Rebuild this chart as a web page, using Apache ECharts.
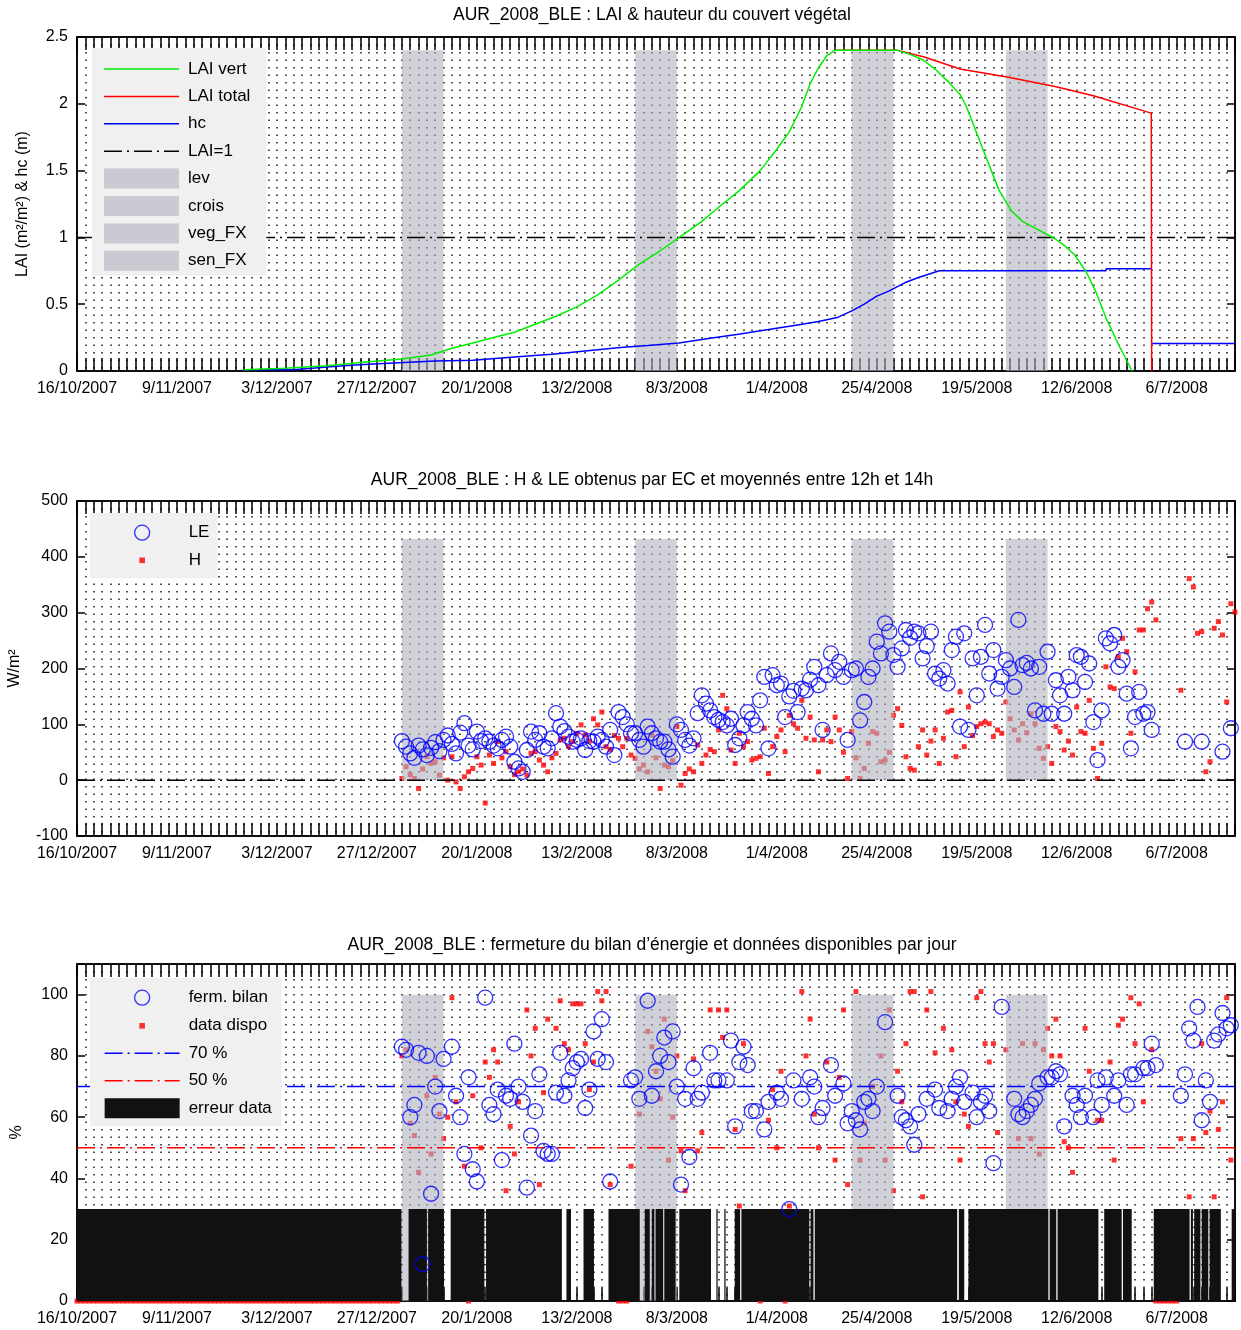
<!DOCTYPE html>
<html><head><meta charset="utf-8">
<script src="https://cdn.jsdelivr.net/npm/echarts@6/dist/echarts.min.js"></script>
<style>html,body{margin:0;padding:0;background:#fff}#c{width:1241px;height:1330px}</style>
</head><body><div id="c"></div>
<script>
// ---------- axis / tick data (days counted from 16/10/2007) ----------
const xTickLabels = ['16/10/2007','9/11/2007','3/12/2007','27/12/2007','20/1/2008','13/2/2008','8/3/2008','1/4/2008','25/4/2008','19/5/2008','12/6/2008','6/7/2008'];
const tickStepDays = 24;
const dayMax = 278;

// ---------- phases ----------
const phaseNames = ['lev','crois','veg_FX','sen_FX'];
const phaseRanges = [[78,88],[134,144],[186,196],[223,233]];
const phaseTops = [2.4, 432, 100];

// ---------- plot 1 : LAI & hc ----------
const laiVert = [[40,0.01],[50,0.02],[60,0.04],[70,0.07],[78,0.09],[85,0.12],[90,0.17],[95,0.21],[100,0.25],[105,0.29],[110,0.35],[115,0.41],[120,0.48],[125,0.57],[130,0.68],[135,0.8],[140,0.9],[145,1.01],[150,1.12],[155,1.25],[159,1.35],[164,1.5],[168,1.66],[171,1.79],[174,1.98],[176,2.15],[178,2.27],[180,2.36],[182,2.4],[197,2.4],[200,2.37],[203,2.33],[206,2.26],[209,2.17],[212,2.07],[213.5,1.98],[215.5,1.82],[217.6,1.65],[219.5,1.5],[221.4,1.35],[224.3,1.2],[227,1.12],[230,1.07],[234.8,0.99],[237,0.94],[239.5,0.87],[242.3,0.74],[244.5,0.6],[247,0.4],[250,0.2],[253.3,0]];
const laiTotal = [[182,2.4],[197,2.4],[203.4,2.35],[212,2.26],[223.3,2.2],[234.8,2.13],[244,2.06],[257.9,1.93],[258,0]];
const hc = [[40,0.01],[52,0.01],[60,0.03],[64,0.04],[70,0.05],[76,0.06],[86,0.075],[95,0.08],[105,0.105],[114,0.125],[122,0.15],[130.4,0.175],[137,0.19],[144.5,0.21],[152,0.245],[158.8,0.275],[166,0.31],[173,0.345],[178,0.37],[182.5,0.4],[186,0.45],[189,0.5],[192,0.56],[195,0.6],[198.7,0.66],[202,0.7],[205,0.73],[207,0.75],[247,0.75],[247.1,0.765],[257.9,0.765],[258,null],[258.1,0.205],[278,0.205]];
const laiRef = 1;

// ---------- plot 2 : LE & H (W/m2) ----------
const LE = [[78,70],[79,60],[80,48],[81,40],[82,62],[83,55],[84,45],[85,58],[86,68],[87,52],[88,72],[89,80],[90,65],[91,48],[92,85],[93,102],[94,62],[95,55],[96,87],[97,70],[98,75],[99,69],[100,62],[101,57],[102,72],[103,78],[104,60],[105,33],[106,21],[107,15],[108,54],[109,87],[110,72],[111,84],[112,60],[113,57],[114,75],[115,120],[116,96],[117,88],[118,78],[119,69],[120,72],[121,75],[122,54],[123,70],[124,69],[125,78],[126,72],[127,60],[128,90],[129,45],[130,122],[131,113],[132,100],[133,84],[134,84],[135,72],[136,60],[137,96],[138,84],[139,75],[140,69],[141,69],[142,55],[143,42],[144,100],[145,90],[146,72],[147,62],[148,75],[149,120],[150,152],[151,137],[152,125],
[153,113],[154,108],[155,104],[156,98],[157,110],[158,63],[159,75],[160,98],[161,122],[162,110],[163,98],[164,143],[165,185],[166,57],[167,188],[168,170],[169,173],[170,113],[171,150],[172,160],[173,122],[174,164],[175,161],[176,180],[177,203],[178,170],[179,90],[180,188],[181,227],[182,197],[183,212],[184,185],[185,72],[186,197],[187,200],[188,107],[189,140],[190,185],[191,200],[192,248],[193,227],[194,281],[195,266],[196,224],[197,203],[198,236],[199,269],[200,255],[201,266],[202,263],[203,218],[204,240],[205,266],[206,191],[207,182],[208,197],[209,173],[210,233],[211,257],[212,96],[213,263],[214,90],[215,218],[216,152],[217,221],[218,278],[219,191],[220,233],[221,164],
[222,185],[223,215],[224,200],[225,167],[226,287],[227,206],[228,210],[229,200],[230,125],[231,203],[232,119],[233,230],[234,119],[235,179],[236,152],[237,119],[238,185],[239,161],[240,224],[241,221],[242,176],[243,209],[244,104],[245,36],[246,125],[247,254],[248,245],[249,260],[250,203],[251,215],[252,155],[253,57],[254,113],[255,158],[256,119],[257,122],[258,90],[266,69],[270,69],[275,51],[277,93]];
const H = [[78,3],[79,24],[80,10],[81,3],[82,-15],[83,20],[84,42],[85,30],[86,33],[87,9],[88,40],[89,0],[90,42],[91,-3],[92,-15],[93,6],[94,15],[95,21],[96,42],[97,27],[98,-41],[99,45],[100,30],[101,69],[102,40],[103,51],[104,24],[105,10],[106,15],[107,20],[108,9],[109,48],[110,51],[111,36],[112,27],[113,15],[114,40],[115,48],[116,72],[117,75],[118,60],[119,69],[120,84],[121,99],[122,81],[123,70],[124,110],[125,99],[126,122],[127,60],[128,55],[129,80],[130,75],[131,60],[132,75],[133,45],[134,39],[135,20],[136,27],[137,15],[138,81],[139,40],[140,-15],[141,27],[142,24],[143,35],[144,96],[145,-9],[146,12],[147,20],[148,15],[149,63],[150,30],[151,45],[152,55],
[153,51],[154,90],[155,152],[156,128],[157,54],[158,30],[159,84],[160,60],[161,69],[162,36],[163,39],[164,42],[165,93],[166,12],[167,60],[168,78],[169,90],[170,51],[171,116],[172,101],[173,93],[174,143],[175,75],[176,113],[177,72],[178,15],[179,72],[180,90],[181,69],[182,113],[183,90],[184,50],[185,3],[186,87],[187,40],[188,3],[189,21],[190,66],[191,87],[192,84],[193,33],[194,36],[195,50],[196,116],[197,128],[198,98],[199,42],[200,21],[201,18],[202,60],[203,90],[204,45],[205,70],[206,90],[207,30],[208,75],[209,122],[210,125],[211,42],[212,158],[213,60],[214,131],[215,80],[216,96],[217,101],[218,104],[219,101],[220,78],[221,90],
[222,84],[223,140],[224,110],[225,90],[226,72],[227,101],[228,85],[229,119],[230,101],[231,57],[232,39],[233,60],[234,30],[235,96],[236,87],[237,54],[238,70],[239,45],[240,131],[241,87],[242,84],[243,143],[244,57],[245,3],[246,66],[247,203],[248,167],[249,164],[250,221],[251,254],[252,230],[253,84],[254,194],[255,269],[256,269],[257,307],[258,319],[259,287],[265,161],[267,361],[268,346],[269,263],[270,266],[271,15],[272,33],[273,272],[274,284],[275,260],[276,140],[277,316],[278,301]];
const zeroRef = 0;

// ---------- plot 3 : energy balance closure (%) ----------
const fermBilan = [[78,83],[79,82],[80,60],[81,64],[82,81],[83,12],[84,80],[85,35],[86,70],[87,62],[88,79],[90,83],[91,67],[92,60],[93,48],[94,73],[95,43],[96,39],[98,99],[99,64],[100,61],[101,69],[102,46],[103,67],[104,66],[105,84],[106,70],[107,65],[108,37],[109,54],[110,62],[111,74],[112,49],[113,48],[114,48],[115,68],[116,81],[117,67],[118,72],[119,76],[120,78],[121,79],[122,63],[123,69],[124,88],[125,79],[126,92],[127,78],[128,39],
[133,72],[134,73],[135,66],[137,98],[138,67],[139,75],[140,80],[141,86],[142,78],[143,88],[144,70],[145,38],[146,66],[147,47],[148,76],[149,66],[150,68],[152,81],[153,72],[154,72],[156,72],[157,85],[158,57],[159,78],[160,83],[161,77],[162,62],[163,62],[165,56],[166,65],[168,68],[169,66],[171,30],[172,72],[174,66],[176,73],[177,70],[178,60],[179,63],[181,77],[182,67],[184,71],[185,58],[186,62],[187,59],[188,56],[189,65],[190,66],[191,62],[192,70],[194,91],[197,67],[198,60],[199,59],[200,57],[201,51],[202,61],[204,66],[206,69],[207,63],[209,62],[210,66],[211,70],[212,73],[213,65],[215,68],[216,60],[217,65],[218,67],[219,62],[220,45],[222,96],[225,66],[226,61],[227,60],[228,62],[229,64],[230,66],[231,71],[233,73],[234,73],[235,75],[236,74],[237,57],[239,67],[240,64],[241,60],[242,67],[244,60],[245,72],[246,64],[247,73],[249,67],[250,72],[252,64],[253,74],[254,74],[256,76],[257,76],[258,84],[259,77],[265,67],[266,74],[267,89],[268,85],[269,96],[270,59],[271,72],[272,65],[273,85],[274,87],[275,94],[276,89],[277,90]];
const dataDispo = [[0,0],[1,0],[2,0],[3,0],[4,0],[5,0],[6,0],[7,0],[8,0],[9,0],[10,0],[11,0],[12,0],[13,0],[14,0],[15,0],[16,0],[17,0],[18,0],[19,0],[20,0],[21,0],[22,0],[23,0],[24,0],[25,0],[26,0],[27,0],[28,0],[29,0],[30,0],[31,0],[32,0],[33,0],[34,0],[35,0],[36,0],[37,0],[38,0],[39,0],[40,0],[41,0],[42,0],[43,0],[44,0],[45,0],[46,0],[47,0],[48,0],[49,0],[50,0],[51,0],[52,0],[53,0],[54,0],[55,0],[56,0],[57,0],[58,0],[59,0],[60,0],[61,0],[62,0],[63,0],[64,0],[65,0],[66,0],[67,0],[68,0],[69,0],[70,0],[71,0],[72,0],[73,0],[74,0],[75,0],[76,0],[77,0],
[78,80],[79,82],[80,58],[81,54],[82,42],[84,67],[85,48],[86,73],[87,61],[88,53],[89,60],[90,99],[91,65],[93,44],[94,0],[95,67],[97,50],[98,78],[99,73],[100,82],[101,78],[103,36],[104,57],[105,48],[106,65],[108,95],[109,80],[110,89],[111,38],[112,68],[113,92],[115,89],[116,98],[117,84],[118,82],[119,97],[120,97],[121,97],[122,84],[123,69],[124,78],[125,101],[126,98],[127,101],[128,38],[130,0],[131,0],[132,0],[133,44],[135,61],[137,88],[138,83],[139,75],[140,66],[141,92],[142,46],[143,60],[144,80],[145,49],[146,36],[148,79],[149,49],[150,55],[152,95],[154,95],[155,86],[156,95],[158,56],[159,31],[160,84],[164,0],[166,59],[167,69],[168,50],[169,75],[170,0],[171,31],[174,101],[175,80],[176,92],[177,61],[178,50],[180,78],[182,46],[183,73],[184,95],[185,38],[187,101],[188,46],[189,58],[191,70],[193,80],[194,46],[195,95],[196,36],[197,75],[198,65],[199,84],[200,101],[201,101],[203,34],[204,95],[205,101],[206,81],[208,89],[210,82],[211,65],[212,46],[213,61],[214,57],[216,99],[217,101],[218,84],[219,78],[220,84],[221,55],[223,82],[226,53],[227,84],[229,53],[230,84],[231,48],[232,82],[233,89],[234,80],[235,92],[236,80],[237,52],[238,50],[239,42],[242,89],[243,75],[245,59],[246,59],[248,78],[249,46],[250,90],[251,92],[253,99],[254,84],[255,97],[256,65],[258,82],[259,0],[260,0],[261,0],[262,0],[263,0],[264,0],[265,53],[267,34],[268,53],[270,84],[271,55],[272,62],[273,34],[274,56],[275,65],[276,99],[277,46]];
const errRanges = [[0,77.9],[79.6,84],[84.3,88.1],[89.7,97.8],[98.2,116.4],[117.5,118.6],[121.6,124.1],[127.6,135.1],[136.3,137.5],[138,138.6],[138.9,140.7],[141,143.7],[144.6,152.2],[153.5,153.8],[155.4,155.7],[157.9,159.2],[159.5,175.8],[176.1,176.8],[177.1,211.3],[211.7,213],[214,233.2],[233.5,235.1],[235.4,245.2],[246.6,250.8],[251.1,253.2],[258.5,267.1],[267.4,267.9],[268.2,269.7],[270,271.6],[271.9,274.6],[277.2,278]];
const errTop = 30;
const seuil70 = 70;
const seuil50 = 50;

// ---------- styling ----------
const FONT = 'Liberation Sans, Arial, sans-serif';
const bandColor = 'rgba(177,177,192,0.6)';
const dotLine = { color: '#222', width: 1.6, type: [1.6, 5.9] };
const dashDot = [18, 5, 2, 5];
// legend icons: each has a 75x20 bounding box so all legend rows have the same height
const solidIcon = 'path://M0,0M75,20M0,9.25L75,9.25L75,10.75L0,10.75Z';
const dashDotIcon = 'path://M0,0M75,20M0,9.25h18v1.5h-18zM23,9.25h2v1.5h-2zM30,9.25h18v1.5h-18zM53,9.25h2v1.5h-2zM60,9.25h15v1.5h-15z';
const circleIcon = 'path://M0,0M75,20M45,10A7.5,7.5,0,1,1,30,10A7.5,7.5,0,1,1,45,10Z';
const squareIcon = 'path://M0,0M75,20M34.7,7.2h5.6v5.6h-5.6Z';

const grids = [
  { left: 77, top: 37, width: 1158, height: 334 },
  { left: 77, top: 501, width: 1158, height: 335 },
  { left: 77, top: 964, width: 1158, height: 337 }
].map(g => Object.assign(g, { show: true, borderColor: '#000', borderWidth: 1.5, containLabel: false, outerBoundsMode: 'none' }));

const xFmt = v => { const i = v / tickStepDays; return (Number.isInteger(i) && i < xTickLabels.length) ? xTickLabels[i] : ''; };

const xAxes = [];
const yAxes = [];
const yCfg = [
  { min: 0, max: 2.5, interval: 0.5, name: 'LAI (m\u00b2/m\u00b2) & hc (m)', gap: 46 },
  { min: -100, max: 500, interval: 100, name: 'W/m\u00b2', gap: 54 },
  { min: 0, max: 110, interval: 20, name: '%', gap: 52 }
];
for (let g = 0; g < 3; g++) {
  const tickStyle = { color: '#000', width: 1.5 };
  const base = { type: 'value', gridIndex: g, min: 0, max: dayMax, interval: tickStepDays,
    axisLine: { show: true, onZero: false, lineStyle: { color: '#000', width: 1.5 } },
    axisTick: { show: true, inside: true, length: 13, lineStyle: tickStyle },
    minorTick: { show: true, splitNumber: 12, length: 13, lineStyle: tickStyle } };
  xAxes.push(Object.assign({}, base, { position: 'bottom',
    splitLine: { show: true, lineStyle: dotLine }, minorSplitLine: { show: true, lineStyle: dotLine },
    axisLabel: { show: true, formatter: xFmt, fontSize: 16, color: '#000', margin: 10, fontFamily: FONT, showMaxLabel: false } }));
  xAxes.push(Object.assign({}, base, { position: 'top', splitLine: { show: false }, minorSplitLine: { show: false }, axisLabel: { show: false } }));
  const c = yCfg[g];
  const ybase = { type: 'value', gridIndex: g, min: c.min, max: c.max, interval: c.interval, splitLine: { show: false },
    axisLine: { show: true, onZero: false, lineStyle: { color: '#000', width: 1.5 } },
    axisTick: { show: true, inside: true, length: 8, lineStyle: { color: '#000', width: 1.5 } } };
  yAxes.push(Object.assign({}, ybase, { position: 'left', name: c.name, nameLocation: 'middle', nameRotate: 90, nameGap: c.gap,
    nameTextStyle: { fontSize: 16, color: '#000', fontFamily: FONT },
    axisLabel: { fontSize: 16, color: '#000', margin: 9, fontFamily: FONT, formatter: v => (v > c.max - c.interval / 2 && g === 2) ? '' : String(v) } }));
  yAxes.push(Object.assign({}, ybase, { position: 'right', axisLabel: { show: false } }));
}

function rectRender(top) {
  return function (params, api) {
    const p0 = api.coord([api.value(0), 0]);
    const p1 = api.coord([api.value(1), top]);
    return { type: 'rect', shape: { x: p0[0], y: p1[1], width: p1[0] - p0[0], height: p0[1] - p1[1] },
      style: { fill: api.visual('color') } };
  };
}

const series = [];
// plot 1 phases (legend items)
phaseNames.forEach((n, i) => series.push({ type: 'custom', name: n, xAxisIndex: 0, yAxisIndex: 0, z: 2,
  itemStyle: { color: bandColor }, encode: { x: [0, 1] }, renderItem: rectRender(phaseTops[0]), data: [phaseRanges[i]] }));
series.push({ type: 'line', name: 'LAI=1', xAxisIndex: 0, yAxisIndex: 0, z: 3, symbol: 'none', silent: true,
  lineStyle: { color: '#000', width: 1.5, type: dashDot }, itemStyle: { color: '#000' }, data: [[0, laiRef], [dayMax, laiRef]] });
series.push({ type: 'line', name: 'hc', xAxisIndex: 0, yAxisIndex: 0, z: 4, symbol: 'none', connectNulls: false,
  lineStyle: { color: '#0000ff', width: 1.5 }, itemStyle: { color: '#0000ff' }, data: hc });
series.push({ type: 'line', name: 'LAI total', xAxisIndex: 0, yAxisIndex: 0, z: 5, symbol: 'none',
  lineStyle: { color: '#ff0000', width: 1.5 }, itemStyle: { color: '#ff0000' }, data: laiTotal });
series.push({ type: 'line', name: 'LAI vert', xAxisIndex: 0, yAxisIndex: 0, z: 6, symbol: 'none',
  lineStyle: { color: '#00ee00', width: 1.5 }, itemStyle: { color: '#00ee00' }, data: laiVert });

// plot 2
series.push({ type: 'scatter', name: 'H', xAxisIndex: 2, yAxisIndex: 2, z: 1, symbol: 'rect', symbolSize: 5,
  itemStyle: { color: '#ff0000' }, data: H });
series.push({ type: 'custom', name: 'phases2', xAxisIndex: 2, yAxisIndex: 2, z: 2, itemStyle: { color: bandColor },
  encode: { x: [0, 1] }, renderItem: rectRender(phaseTops[1]), data: phaseRanges });
series.push({ type: 'line', name: 'zero', xAxisIndex: 2, yAxisIndex: 2, z: 3, symbol: 'none',
  lineStyle: { color: '#000', width: 1.5, type: dashDot }, data: [[0, zeroRef], [dayMax, zeroRef]] });
series.push({ type: 'scatter', name: 'LE', xAxisIndex: 2, yAxisIndex: 2, z: 4, symbol: 'circle', symbolSize: 15,
  itemStyle: { color: 'rgba(0,0,0,0)', borderColor: '#0000ff', borderWidth: 1.3 }, data: LE });

// plot 3
series.push({ type: 'scatter', name: 'data dispo', xAxisIndex: 4, yAxisIndex: 4, z: 1, symbol: 'rect', symbolSize: 5, clip: false,
  itemStyle: { color: '#ff0000' }, data: dataDispo });
series.push({ type: 'custom', name: 'phases3', xAxisIndex: 4, yAxisIndex: 4, z: 2, itemStyle: { color: bandColor },
  encode: { x: [0, 1] }, renderItem: rectRender(phaseTops[2]), data: phaseRanges });
series.push({ type: 'custom', name: 'erreur data', xAxisIndex: 4, yAxisIndex: 4, z: 3, itemStyle: { color: '#111' },
  encode: { x: [0, 1] }, renderItem: rectRender(errTop), data: errRanges });
series.push({ type: 'line', name: '70 %', xAxisIndex: 4, yAxisIndex: 4, z: 4, symbol: 'none',
  lineStyle: { color: '#0000ff', width: 1.5, type: dashDot }, itemStyle: { color: '#0000ff' }, data: [[0, seuil70], [dayMax, seuil70]] });
series.push({ type: 'line', name: '50 %', xAxisIndex: 4, yAxisIndex: 4, z: 4, symbol: 'none',
  lineStyle: { color: '#ff0000', width: 1.5, type: dashDot }, itemStyle: { color: '#ff0000' }, data: [[0, seuil50], [dayMax, seuil50]] });
series.push({ type: 'scatter', name: 'ferm. bilan', xAxisIndex: 4, yAxisIndex: 4, z: 5, symbol: 'circle', symbolSize: 15,
  itemStyle: { color: 'rgba(0,0,0,0)', borderColor: '#0000ff', borderWidth: 1.3 }, data: fermBilan });

const noBorder = { borderWidth: 0 };
const ring = { borderWidth: 1.3, color: 'rgba(0,0,0,0)' };
const legendBase = { orient: 'vertical', backgroundColor: '#f0f0f0', itemWidth: 75, itemHeight: 20, selectedMode: false, z: 20,
  textStyle: { fontSize: 17, color: '#000', fontFamily: FONT, padding: [0, 0, 0, 4] } };
const legends = [
  Object.assign({}, legendBase, { left: 92, top: 48, padding: [11, 16, 5, 12], itemGap: 7.4,
    data: [{ name: 'LAI vert', icon: solidIcon, itemStyle: noBorder }, { name: 'LAI total', icon: solidIcon, itemStyle: noBorder },
      { name: 'hc', icon: solidIcon, itemStyle: noBorder }, { name: 'LAI=1', icon: dashDotIcon, itemStyle: noBorder },
      { name: 'lev', icon: 'rect', itemStyle: noBorder }, { name: 'crois', icon: 'rect', itemStyle: noBorder },
      { name: 'veg_FX', icon: 'rect', itemStyle: noBorder }, { name: 'sen_FX', icon: 'rect', itemStyle: noBorder }] }),
  Object.assign({}, legendBase, { left: 90, top: 513, padding: [9, 8, 8, 14], itemGap: 7,
    data: [{ name: 'LE', icon: circleIcon, itemStyle: ring }, { name: 'H', icon: squareIcon, itemStyle: noBorder }] }),
  Object.assign({}, legendBase, { left: 90, top: 978, padding: [9, 10, 8, 14], itemGap: 7.5,
    data: [{ name: 'ferm. bilan', icon: circleIcon, itemStyle: ring }, { name: 'data dispo', icon: squareIcon, itemStyle: noBorder },
      { name: '70 %', icon: dashDotIcon, itemStyle: noBorder }, { name: '50 %', icon: dashDotIcon, itemStyle: noBorder },
      { name: 'erreur data', icon: 'rect', itemStyle: noBorder }] })
];

const titleStyle = { fontSize: 17.5, fontWeight: 'normal', color: '#000', fontFamily: FONT };
const option = {
  animation: false,
  backgroundColor: '#fff',
  textStyle: { fontFamily: FONT },
  title: [
    { text: 'AUR_2008_BLE : LAI & hauteur du couvert v\u00e9g\u00e9tal', left: 652, top: 6, textAlign: 'center', padding: 0, textStyle: titleStyle },
    { text: 'AUR_2008_BLE : H & LE obtenus par EC et moyenn\u00e9s entre 12h et 14h', left: 652, top: 471, textAlign: 'center', padding: 0, textStyle: titleStyle },
    { text: 'AUR_2008_BLE : fermeture du bilan d\u2019\u00e9nergie et donn\u00e9es disponibles par jour', left: 652, top: 936, textAlign: 'center', padding: 0, textStyle: titleStyle }
  ],
  grid: grids,
  xAxis: xAxes,
  yAxis: yAxes,
  legend: legends,
  series: series
};
const chart = echarts.init(document.getElementById('c'), null, { renderer: 'canvas', width: 1241, height: 1330 });
chart.setOption(option);
</script>
</body></html>
